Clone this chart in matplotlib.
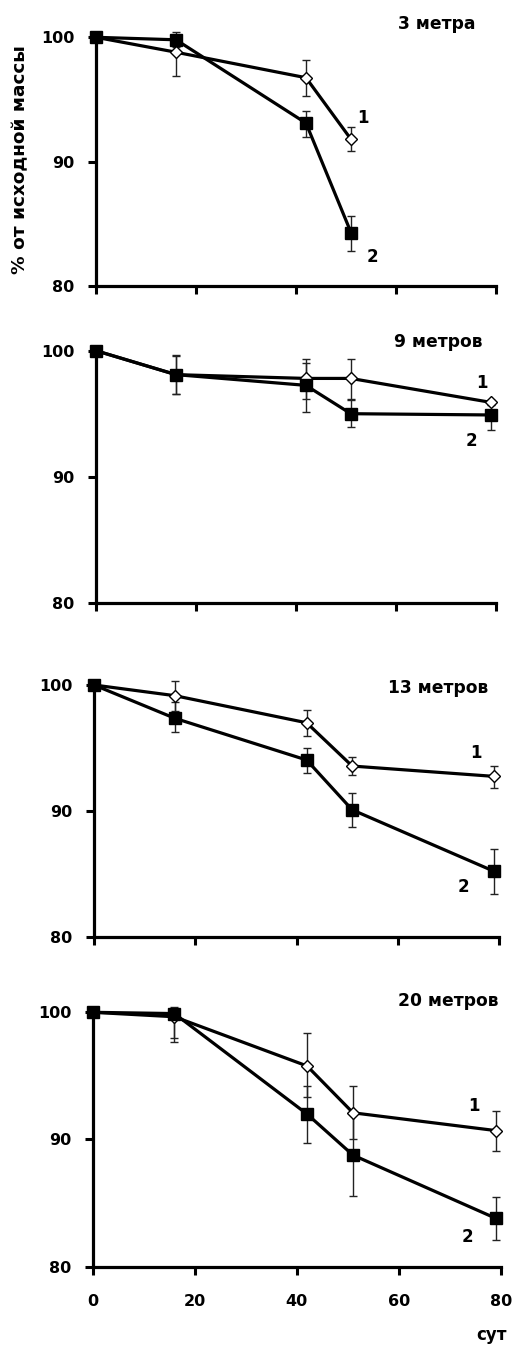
import matplotlib
matplotlib.use("Agg")
import matplotlib.pyplot as plt
import numpy as np

plt.rcParams['font.family'] = ['DejaVu Sans']
plt.rcParams['font.weight'] = 'bold'

# ---- data ----
titles = ["3 метра", "9 метров", "13 метров", "20 метров"]
x_ticks = [0, 20, 40, 60, 80]
y_ticks = [80, 90, 100]

# panel 1: 3 m
p1_days = [0, 16, 42, 51]
p1_s1 = [100, 98.8, 96.75, 91.8]
p1_s1_up = [0, 0, 1.42, 0.96]
p1_s1_dn = [0, 1.9, 1.47, 0.95]
p1_s2 = [100, 99.8, 93.1, 84.3]
p1_s2_up = [0, 0.6, 0.97, 1.35]
p1_s2_dn = [0, 0.6, 1.1, 1.47]

# panel 2: 9 m
p2_days = [0, 16, 42, 51, 79]
p2_s1 = [100, 98.1, 97.8, 97.8, 95.9]
p2_s1_up = [0, 1.5, 1.25, 1.55, 0.2]
p2_s1_dn = [0, 1.5, 1.66, 1.6, 0.2]
p2_s2 = [100, 98.1, 97.25, 95.0, 94.9]
p2_s2_up = [0, 1.56, 2.09, 1.08, 0.3]
p2_s2_dn = [0, 1.56, 2.09, 1.06, 1.2]

# panel 3: 13 m
p3_days = [0, 16, 42, 51, 79]
p3_s1 = [100, 99.15, 97.0, 93.56, 92.74]
p3_s1_up = [0, 1.2, 1.0, 0.74, 0.85]
p3_s1_dn = [0, 1.2, 1.05, 0.7, 0.9]
p3_s2 = [100, 97.35, 94.04, 90.08, 85.2]
p3_s2_up = [0, 1.32, 0.93, 1.3, 1.8]
p3_s2_dn = [0, 1.11, 1.06, 1.34, 1.84]

# panel 4: 20 m
p4_days = [0, 16, 42, 51, 79]
p4_s1 = [100, 99.65, 95.78, 92.1, 90.7]
p4_s1_up = [0, 0, 2.59, 2.13, 1.57]
p4_s1_dn = [0, 2.0, 2.41, 2.04, 1.6]
p4_s2 = [100, 99.9, 92.0, 88.77, 83.8]
p4_s2_up = [0, 0.5, 2.2, 3.2, 1.67]
p4_s2_dn = [0, 1.9, 2.3, 3.2, 1.7]

panels = [
    (p1_days, p1_s1, p1_s1_up, p1_s1_dn, p1_s2, p1_s2_up, p1_s2_dn),
    (p2_days, p2_s1, p2_s1_up, p2_s1_dn, p2_s2, p2_s2_up, p2_s2_dn),
    (p3_days, p3_s1, p3_s1_up, p3_s1_dn, p3_s2, p3_s2_up, p3_s2_dn),
    (p4_days, p4_s1, p4_s1_up, p4_s1_dn, p4_s2, p4_s2_up, p4_s2_dn),
]

# ---- layout (pixels) ----
W, H = 517, 1346
# (x0px, x80px, y100px, y80px)
boxes = [(96, 496, 37.3, 286), (96, 495.7, 350.7, 602.7),
         (94, 499, 685, 936.7), (92.7, 501, 1012.3, 1266.7)]
title_pos = [(68.1, 101.07), (68.5, 100.67), (68.0, 99.74), (69.7, 100.91)]
lab1_pos = [(53.3, 93.5), (77.2, 97.41), (75.5, 94.57), (74.6, 92.66)]
lab2_pos = [(55.3, 82.35), (75.2, 92.83), (72.9, 83.97), (73.4, 82.36)]

fig = plt.figure(figsize=(W / 100, H / 100), dpi=100)

for i, (box, pdata) in enumerate(zip(boxes, panels)):
    x0, x1, yt, yb = box
    ax = fig.add_axes([x0 / W, 1 - yb / H, (x1 - x0) / W, (yb - yt) / H])
    days, s1, s1u, s1d, s2, s2u, s2d = pdata
    ax.errorbar(days, s1, yerr=[s1d, s1u], fmt='none', ecolor='#222222',
                elinewidth=1.0, capsize=3, capthick=1.0, clip_on=False, zorder=2)
    ax.errorbar(days, s2, yerr=[s2d, s2u], fmt='none', ecolor='#222222',
                elinewidth=1.0, capsize=3, capthick=1.0, clip_on=False, zorder=2)
    ax.plot(days, s1, color='black', lw=2.3, marker='D', markersize=6.5,
            markerfacecolor='white', markeredgecolor='black', markeredgewidth=1.0,
            clip_on=False, zorder=3)
    ax.plot(days, s2, color='black', lw=2.3, marker='s', markersize=8.3,
            markerfacecolor='black', markeredgecolor='black',
            clip_on=False, zorder=4)
    ax.set_xlim(0, 80)
    ax.set_ylim(80, 100)
    ax.set_xticks(x_ticks)
    ax.set_yticks(y_ticks)
    for s in ['top', 'right']:
        ax.spines[s].set_visible(False)
    for s in ['left', 'bottom']:
        ax.spines[s].set_linewidth(2.3)
    ax.tick_params(axis='both', which='major', width=2.2, length=5.5,
                   labelsize=11.5, direction='out')
    ax.tick_params(axis='y', pad=10)
    ax.tick_params(axis='x', pad=14)
    for lbl in ax.get_yticklabels():
        lbl.set_fontweight('bold')
    if i < 3:
        ax.set_xticklabels([])
    else:
        for lbl in ax.get_xticklabels():
            lbl.set_fontweight('bold')
    ax.patch.set_visible(False)
    ax.text(*title_pos[i], titles[i], ha='center', va='center',
            fontsize=12.3, fontweight='bold')
    ax.text(*lab1_pos[i], "1", ha='center', va='center', fontsize=12, fontweight='bold')
    ax.text(*lab2_pos[i], "2", ha='center', va='center', fontsize=12, fontweight='bold')

fig.text(20 / W, 1 - 160 / H, "% от исходной массы", rotation=90,
         ha='center', va='center', fontsize=13.3, fontweight='bold')
fig.text(491.7 / W, 1 - 1335 / H, "сут", ha='center', va='center',
         fontsize=12, fontweight='bold')

fig.savefig("out.png", dpi=100)
